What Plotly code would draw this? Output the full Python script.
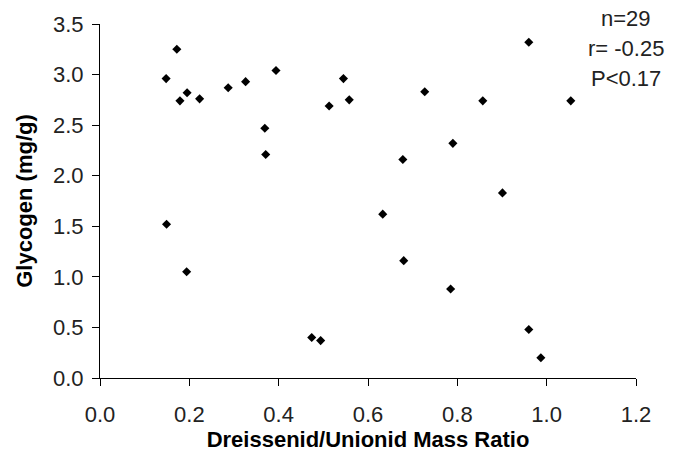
import plotly.graph_objects as go

mass_ratio = [0.172, 0.148, 0.179, 0.195, 0.223, 0.287, 0.326, 0.394, 0.369, 0.371,
              0.513, 0.149, 0.545, 0.558, 0.727, 0.960, 0.857, 1.054, 0.790, 0.678,
              0.901, 0.633, 0.194, 0.474, 0.494, 0.680, 0.785, 0.960, 0.987]
glycogen = [3.25, 2.96, 2.74, 2.82, 2.76, 2.87, 2.93, 3.04, 2.47, 2.21,
            2.69, 1.52, 2.96, 2.75, 2.83, 3.32, 2.74, 2.74, 2.32, 2.16,
            1.83, 1.62, 1.05, 0.40, 0.37, 1.16, 0.88, 0.48, 0.20]
x_ticks = [0.0, 0.2, 0.4, 0.6, 0.8, 1.0, 1.2]
y_ticks = [0.0, 0.5, 1.0, 1.5, 2.0, 2.5, 3.0, 3.5]
stats_lines = ["n=29", "r= -0.25", "P<0.17"]

FONT = "Liberation Sans, Arial, sans-serif"

fig = go.Figure()
fig.add_trace(go.Scatter(
    x=mass_ratio, y=glycogen, mode="markers",
    marker=dict(symbol="diamond", size=7, color="black"),
    showlegend=False,
))

axis_common = dict(
    showgrid=False, zeroline=False, showline=True, linecolor="black", linewidth=1,
    ticks="outside", ticklen=7, tickcolor="black", tickwidth=1,
    tickfont=dict(family=FONT, size=22, color="#222"),
)
fig.update_xaxes(range=[0, 1.2], tickvals=x_ticks,
                 ticktext=[f"{v:.1f}" for v in x_ticks],
                 title=dict(text="<b>Dreissenid/Unionid Mass Ratio</b>",
                            font=dict(family=FONT, size=22, color="black"), standoff=0),
                 ticklabelstandoff=10, **axis_common)
fig.update_yaxes(range=[0, 3.5], tickvals=y_ticks,
                 ticktext=[f"{v:.1f}" for v in y_ticks],
                 title=dict(text="<b>Glycogen (mg/g)</b>",
                            font=dict(family=FONT, size=22, color="black"), standoff=14),
                 ticklabelstandoff=4, **axis_common)

for i, (txt, yp) in enumerate(zip(stats_lines, [16, 47, 77])):
    fig.add_annotation(text=txt, xref="paper", yref="paper",
                       x=(626 - 100) / 536, y=(380 - yp) / 358,
                       xanchor="center", yanchor="middle", showarrow=False,
                       font=dict(family=FONT, size=22, color="#222"))

fig.update_layout(
    width=680, height=455,
    margin=dict(l=100, r=44, t=22, b=75),
    paper_bgcolor="white", plot_bgcolor="white",
)
fig.write_html("out.html")
